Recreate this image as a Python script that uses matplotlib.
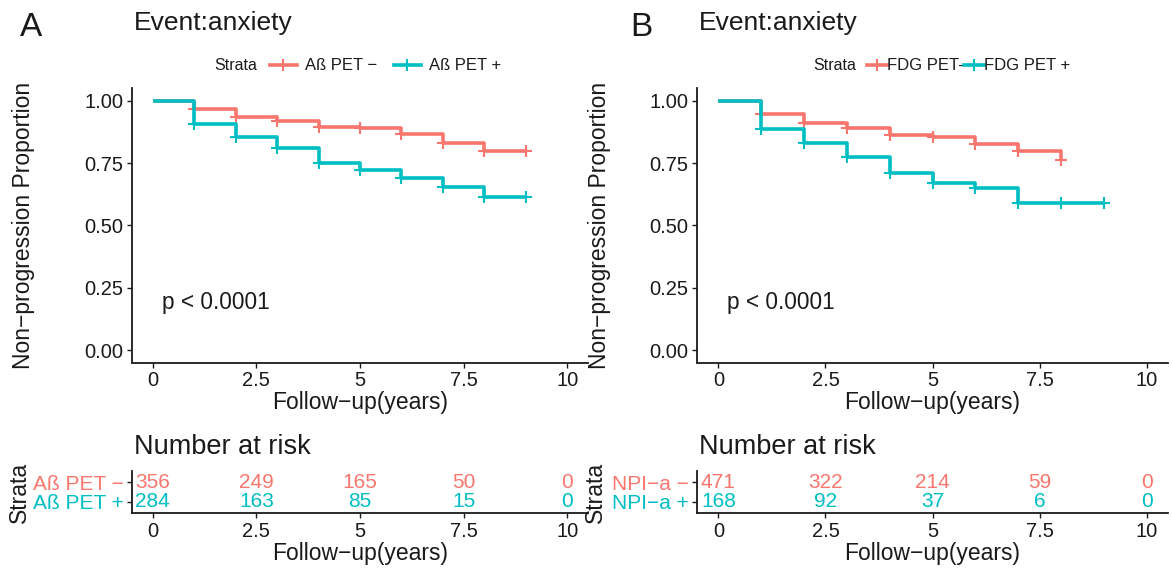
import matplotlib
matplotlib.use("Agg")
import matplotlib.pyplot as plt
from matplotlib.lines import Line2D

plt.rcParams['font.family'] = ['Liberation Sans', 'DejaVu Sans']

RED = '#F8766D'
TEAL = '#00BFC4'
DARK = '#1a1a1a'

# ---------------- data ----------------
title_text = "Event:anxiety"
ylabel_text = "Non\u2212progression Proportion"
xlabel_text = "Follow\u2212up(years)"
p_text = "p < 0.0001"

# Panel A
a_labels = ["A\u00df PET \u2212", "A\u00df PET +"]
a_red_t = [0, 1, 2, 3, 4, 5, 6, 7, 8, 9]
a_red_s = [1.0, 0.967, 0.937, 0.918, 0.897, 0.890, 0.869, 0.833, 0.800, 0.800]
a_teal_t = [0, 1, 2, 3, 4, 5, 6, 7, 8, 9]
a_teal_s = [1.0, 0.908, 0.855, 0.813, 0.751, 0.724, 0.690, 0.656, 0.616, 0.616]
a_risk_labels = ["A\u00df PET \u2212", "A\u00df PET +"]
a_risk_red = [356, 249, 165, 50, 0]
a_risk_teal = [284, 163, 85, 15, 0]

# Panel B
b_labels = ["FDG PET-", "FDG PET +"]
b_red_t = [0, 1, 2, 3, 4, 5, 6, 7, 8]
b_red_s = [1.0, 0.949, 0.913, 0.893, 0.865, 0.857, 0.827, 0.798, 0.764]
b_teal_t = [0, 1, 2, 3, 4, 5, 6, 7, 8, 9]
b_teal_s = [1.0, 0.889, 0.830, 0.777, 0.711, 0.670, 0.651, 0.591, 0.591, 0.591]
b_risk_labels = ["NPI\u2212a \u2212", "NPI\u2212a +"]
b_risk_red = [471, 322, 214, 59, 0]
b_risk_teal = [168, 92, 37, 6, 0]

risk_times = [0, 2.5, 5, 7.5, 10]
xticks = [0, 2.5, 5, 7.5, 10]
xticklabels = ["0", "2.5", "5", "7.5", "10"]
yticks = [0, 0.25, 0.5, 0.75, 1.0]
yticklabels = ["0.00", "0.25", "0.50", "0.75", "1.00"]

W, H = 1173, 570
fig = plt.figure(figsize=(W / 100, H / 100), dpi=100)

TICK_FS = 14.5
LAB_FS = 16.5


def fx(px):
    return px / W


def fy(py):
    return 1 - py / H


def style_axes(ax):
    for s in ['top', 'right']:
        ax.spines[s].set_visible(False)
    for s in ['left', 'bottom']:
        ax.spines[s].set_linewidth(1.3)
        ax.spines[s].set_color(DARK)
    ax.tick_params(axis='both', length=3.7, width=1.0, color=DARK,
                   labelsize=TICK_FS, labelcolor=DARK, pad=2.5)


def km_panel(left_px, right_px, red_t, red_s, teal_t, teal_s, ylab_x,
             p_x, letter, letter_x, legend_labels, legend_spec,
             risk_labels, risk_red, risk_teal):
    wpx = right_px - left_px
    # main axes
    ax = fig.add_axes([fx(left_px), fy(362.5), fx(wpx), (362.5 - 88.5) / H])
    style_axes(ax)
    for t, s, c in [(red_t, red_s, RED), (teal_t, teal_s, TEAL)]:
        ax.step(t, s, where='post', color=c, lw=2.6, solid_capstyle='butt')
        ax.plot(t[1:], s[1:], ls='none', marker='+', ms=9, mew=1.5, color=c)
    ax.set_xlim(-0.5, 10.5)
    ax.set_ylim(-0.05, 1.05)
    ax.set_xticks(xticks)
    ax.set_xticklabels(xticklabels)
    ax.set_yticks(yticks)
    ax.set_yticklabels(yticklabels)
    ax.set_xlabel(xlabel_text, fontsize=LAB_FS, color=DARK, labelpad=1)
    ax.set_ylabel(ylabel_text, fontsize=LAB_FS, color=DARK)
    ax.yaxis.set_label_coords((ylab_x - left_px) / wpx, 0.5)
    ax.text(p_x, 0.19, p_text, fontsize=16.3, color=DARK, va='center',
            ha='left')

    # letter + title
    fig.text(fx(letter_x), fy(27), letter, fontsize=24, color=DARK,
             ha='center', va='center')
    fig.text(fx(left_px + 2), fy(30), title_text, fontsize=19, color=DARK,
             ha='left', va='baseline')

    # legend
    strata_x, lx, cs, htp, hl = legend_spec
    fig.text(fx(strata_x), fy(66), "Strata", fontsize=11.5, color=DARK,
             ha='left', va='center')
    handles = [Line2D([], [], color=RED, lw=2.6, marker='+', ms=9, mew=1.5),
               Line2D([], [], color=TEAL, lw=2.6, marker='+', ms=9, mew=1.5)]
    fig.legend(handles, legend_labels, loc='center left',
               bbox_to_anchor=(fx(lx), fy(66)), ncol=2, frameon=False,
               fontsize=12, handlelength=hl, handletextpad=htp,
               columnspacing=cs, borderpad=0, borderaxespad=0,
               labelcolor=DARK)

    # risk table
    rax = fig.add_axes([fx(left_px), fy(513), fx(wpx), 42 / H])
    style_axes(rax)
    rax.set_xlim(-0.5, 10.5)
    rax.set_ylim(1.6, -0.6)
    rax.set_yticks([0, 1])
    rax.set_yticklabels(risk_labels, fontsize=15)
    for lab, c in zip(rax.get_yticklabels(), [RED, TEAL]):
        lab.set_color(c)
    rax.set_xticks(xticks)
    rax.set_xticklabels(xticklabels)
    for row, (vals, c) in enumerate([(risk_red, RED), (risk_teal, TEAL)]):
        for t, v in zip(risk_times, vals):
            rax.text(t, row, str(v), color=c, fontsize=15, ha='center',
                     va='center')
    rax.set_xlabel(xlabel_text, fontsize=LAB_FS, color=DARK, labelpad=1)
    rax.set_ylabel("Strata", fontsize=LAB_FS, color=DARK)
    rax.yaxis.set_label_coords((ylab_x - 4 - left_px) / wpx, 0.5)
    fig.text(fx(left_px + 2), fy(447), "Number at risk", fontsize=19.5,
             color=DARK, ha='left', va='center')


km_panel(132, 588, a_red_t, a_red_s, a_teal_t, a_teal_s, 35, 0.22,
         "A", 31, a_labels, (214, 270, 1.0, 0.5, 1.6),
         a_risk_labels, a_risk_red, a_risk_teal)
km_panel(697, 1168, b_red_t, b_red_s, b_teal_t, b_teal_s, 611, 0.2,
         "B", 641, b_labels, (813, 867, 0.0, 0.0, 1.2),
         b_risk_labels, b_risk_red, b_risk_teal)

fig.savefig("out.png", dpi=100)
